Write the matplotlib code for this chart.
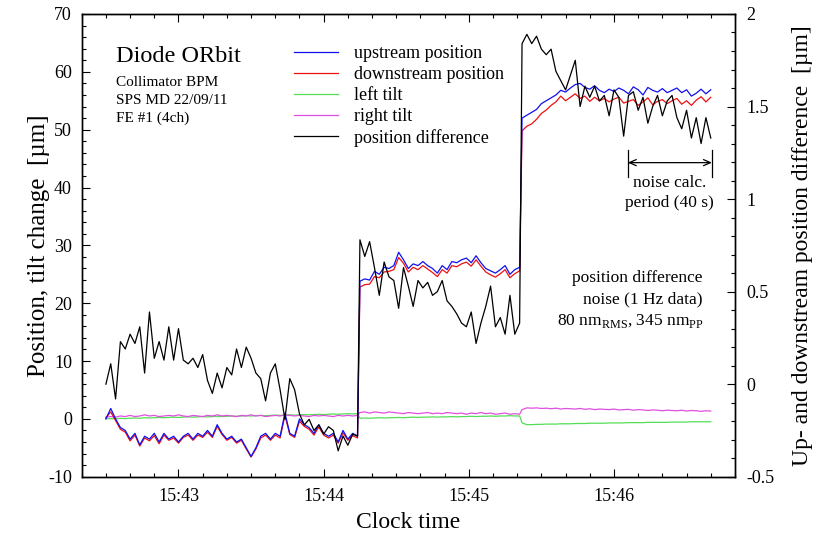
import numpy as np
import matplotlib
matplotlib.use('Agg')
import matplotlib.pyplot as plt
from matplotlib.ticker import MultipleLocator, FuncFormatter
from matplotlib.lines import Line2D

plt.rcParams['font.family'] = 'Liberation Serif'
plt.rcParams['mathtext.fontset'] = 'custom'
plt.rcParams['mathtext.rm'] = 'Liberation Serif'
plt.rcParams['axes.unicode_minus'] = False

# time in seconds after 15:42:00 (1 Hz data, every 2nd sample shown)
t = np.concatenate([np.arange(30, 135, 2), np.arange(135, 202, 2), np.arange(202, 281, 2)])

# um, left axis
upstream = [0.0, 1.8, 0.0, -1.5, -2.0, -3.5, -2.5, -4.5, -3.0, -3.5,
            -2.5, -4.0, -2.5, -3.5, -3.0, -4.0, -3.0, -2.5, -3.5, -2.5,
            -3.0, -2.0, -3.0, -1.0, -2.5, -3.5, -3.0, -4.0, -3.5, -5.0,
            -6.5, -5.0, -3.0, -2.5, -3.5, -2.5, -3.0, 1.0, -2.5, -3.0,
            0.0, -1.0, -1.5, -2.5, -1.0, -2.5, -3.0, -2.5, -4.0, -2.0,
            -3.5, -2.5, -3.0,
            23.8, 24.2, 24.0, 25.5, 25.0, 26.2, 26.0, 26.5, 28.8, 27.5,
            26.0, 26.8, 26.5, 27.2, 26.5, 26.0, 25.2, 26.5, 25.8, 27.2,
            27.0, 27.5, 27.8, 27.0, 28.2, 27.0, 26.0, 25.6, 25.2, 25.8,
            26.5, 25.0, 25.8, 26.2,
            52.0, 52.5, 53.0, 53.5, 54.5, 55.0, 55.5, 56.0, 56.8, 56.5,
            57.2, 57.8, 58.0, 57.3, 57.0, 57.6, 56.8, 56.4, 57.0, 56.6,
            57.2, 56.8, 56.2, 57.4, 56.9, 56.0, 57.3, 56.8, 56.5, 57.1,
            56.4, 56.8, 57.2, 56.4, 56.9, 55.8, 56.3, 57.0, 56.2, 56.9]

downstream = [0.2, 1.2, -0.3, -1.8, -2.3, -3.8, -2.8, -4.7, -3.3, -3.8,
              -2.9, -4.3, -2.8, -3.7, -3.3, -4.2, -3.2, -2.8, -3.7, -2.8,
              -3.2, -2.3, -3.2, -1.3, -2.7, -3.7, -3.2, -4.2, -3.7, -5.2,
              -6.6, -5.2, -3.3, -2.8, -3.7, -2.8, -3.3, 0.6, -2.7, -3.2,
              -0.4, -1.3, -1.8, -2.8, -1.4, -2.8, -3.3, -2.8, -4.2, -2.4,
              -3.7, -2.9, -3.3,
              22.8, 23.2, 23.3, 24.6, 24.4, 25.4, 25.5, 25.8, 27.9, 26.9,
              25.4, 26.2, 25.8, 26.5, 25.9, 25.3, 24.6, 25.8, 25.2, 26.5,
              26.3, 26.8, 27.1, 26.4, 27.5, 26.4, 25.4, 24.9, 24.5, 25.1,
              25.8, 24.4, 25.1, 25.6,
              49.8, 50.6, 51.0, 51.8, 52.8, 53.4, 54.2, 54.8, 55.8, 55.0,
              55.6, 56.2, 55.4, 55.8, 54.9, 55.6, 55.0, 55.4, 54.8, 55.3,
              55.6, 54.6, 54.9, 55.2, 54.2, 54.8, 55.5, 54.3, 54.9, 55.2,
              54.5, 55.0, 55.4, 54.4, 55.0, 54.2, 55.1, 55.7, 54.8, 55.6]

left_tilt = [0.0, 0.05, 0.0, 0.1, 0.05, 0.1, 0.15, 0.1, 0.2, 0.15,
             0.2, 0.25, 0.2, 0.25, 0.3, 0.25, 0.3, 0.35, 0.3, 0.35,
             0.4, 0.35, 0.4, 0.45, 0.4, 0.45, 0.5, 0.45, 0.5, 0.55,
             0.5, 0.55, 0.6, 0.55, 0.6, 0.65, 0.6, 0.65, 0.7, 0.65,
             0.7, 0.75, 0.7, 0.75, 0.8, 0.75, 0.8, 0.85, 0.8, 0.85,
             0.9, 0.85, 0.9,
             0.1, 0.15, 0.1, 0.15, 0.2, 0.15, 0.2, 0.2, 0.25, 0.2,
             0.25, 0.3, 0.25, 0.3, 0.3, 0.35, 0.3, 0.35, 0.35, 0.4,
             0.35, 0.4, 0.4, 0.45, 0.4, 0.45, 0.45, 0.5, 0.45, 0.5,
             0.5, 0.55, 0.5, 0.5,
             -0.7, -1.0, -1.0, -0.95, -0.95, -0.9, -0.9, -0.9, -0.85, -0.85,
             -0.85, -0.8, -0.8, -0.8, -0.75, -0.75, -0.75, -0.75, -0.7, -0.7,
             -0.7, -0.7, -0.65, -0.65, -0.65, -0.65, -0.6, -0.6, -0.6, -0.6,
             -0.6, -0.55, -0.55, -0.55, -0.55, -0.5, -0.5, -0.5, -0.5, -0.5]

right_tilt = [0.3, 0.4, 0.3, 0.5, 0.4, 0.6, 0.4, 0.5, 0.7, 0.5,
              0.6, 0.4, 0.5, 0.6, 0.5, 0.7, 0.5, 0.4, 0.6, 0.5,
              0.4, 0.6, 0.5, 0.7, 0.5, 0.6, 0.5, 0.4, 0.6, 0.5,
              0.7, 0.5, 0.6, 0.4, 0.5, 0.6, 0.5, 0.7, 0.6, 0.5,
              0.6, 0.5, 0.4, 0.6, 0.5, 0.6, 0.5, 0.4, 0.6, 0.5,
              0.6, 0.5, 0.6,
              1.1, 1.2, 1.0, 1.2, 1.1, 1.0, 1.2, 1.1, 1.0, 0.9,
              1.1, 1.0, 0.9, 1.0, 1.1, 0.9, 1.0, 0.9, 1.1, 1.0,
              0.9, 1.0, 0.8, 1.0, 0.9, 1.1, 0.9, 1.0, 0.8, 0.9,
              1.0, 0.8, 0.9, 0.8,
              1.6, 1.9, 1.85, 1.9, 1.8, 1.85, 1.75, 1.85, 1.7, 1.8,
              1.75, 1.7, 1.8, 1.65, 1.75, 1.6, 1.7, 1.65, 1.6, 1.7,
              1.55, 1.6, 1.65, 1.5, 1.6, 1.55, 1.45, 1.55, 1.5, 1.4,
              1.5, 1.45, 1.4, 1.5, 1.35, 1.45, 1.4, 1.3, 1.4, 1.35]

# um, right axis
pos_diff = [0.0, 0.11, -0.08, 0.23, 0.19, 0.27, 0.22, 0.31, 0.06, 0.39,
            0.14, 0.23, 0.13, 0.31, 0.13, 0.30, 0.13, 0.11, 0.14, 0.09,
            0.16, 0.02, -0.05, 0.06, -0.02, 0.09, 0.05, 0.19, 0.09, 0.20,
            0.14, 0.06, 0.03, -0.09, 0.06, 0.11, -0.03, -0.19, 0.03, -0.03,
            -0.16, -0.22, -0.19, -0.25, -0.22, -0.27, -0.23, -0.25, -0.36, -0.28,
            -0.33, -0.27, -0.28,
            0.78, 0.69, 0.77, 0.63, 0.48, 0.66, 0.58, 0.56, 0.41, 0.63,
            0.53, 0.42, 0.56, 0.52, 0.55, 0.48, 0.50, 0.56, 0.45, 0.42,
            0.38, 0.33, 0.31, 0.39, 0.22, 0.33, 0.42, 0.53, 0.31, 0.36,
            0.27, 0.48, 0.27, 0.33,
            1.84, 1.89, 1.84, 1.88, 1.81, 1.78, 1.81, 1.69, 1.64, 1.59,
            1.67, 1.75, 1.50, 1.61, 1.55, 1.61, 1.53, 1.56, 1.45, 1.59,
            1.55, 1.34, 1.56, 1.58, 1.48, 1.55, 1.41, 1.50, 1.56, 1.45,
            1.53, 1.56, 1.44, 1.38, 1.48, 1.33, 1.44, 1.30, 1.44, 1.33]

c_up, c_down, c_left, c_right = '#1010ee', '#ee1010', '#55dd55', '#e050e0'
lw = 0.9

fig = plt.figure(figsize=(8.13, 5.36), dpi=100)
ax = fig.add_axes([0.1005, 0.1106, 0.8035, 0.8633])
ax2 = ax.twinx()

ax.plot(t, left_tilt, color=c_left, lw=lw)
ax.plot(t, right_tilt, color=c_right, lw=lw)
ax.plot(t, downstream, color=c_down, lw=lw)
ax.plot(t, upstream, color=c_up, lw=lw)
ax2.plot(t, pos_diff, color='black', lw=lw)

ax.set_xlim(20, 290)
ax.set_ylim(-10, 70)
ax2.set_ylim(-0.5, 2)

ax.xaxis.set_major_locator(MultipleLocator(60))
ax.xaxis.set_minor_locator(MultipleLocator(10))
ax.xaxis.set_major_formatter(FuncFormatter(lambda v, p: f"15:{42 + int(round(v)) // 60:02d}"))
ax.yaxis.set_major_locator(MultipleLocator(10))
ax.yaxis.set_minor_locator(MultipleLocator(2))
ax2.yaxis.set_major_locator(MultipleLocator(0.5))
ax2.yaxis.set_minor_locator(MultipleLocator(0.1))
ax2.yaxis.set_major_formatter(FuncFormatter(lambda v, p: f"{v:g}"))

ax.tick_params(which='both', direction='in', top=True, right=False, labelsize=13, width=0.8)
ax.tick_params(which='major', length=6)
ax.tick_params(which='minor', length=3.2)
ax.tick_params(axis='y', pad=7)
ax.tick_params(axis='x', pad=8)
ax2.tick_params(which='both', direction='in', labelsize=13, width=0.8, pad=8)
ax2.tick_params(which='major', length=6)
ax2.tick_params(which='minor', length=3.2)
for a in (ax, ax2):
    for s in a.spines.values():
        s.set_linewidth(1.0)

ax.set_xlabel("Clock time", fontsize=17, labelpad=5)
ax.set_ylabel("Position, tilt change  [µm]", fontsize=18)
ax.yaxis.set_label_coords(-0.0485, 0.5)
ax2.set_ylabel("Up- and downstream position difference  [µm]", fontsize=17, labelpad=13)

handles = [Line2D([], [], color=c_up, lw=lw), Line2D([], [], color=c_down, lw=lw),
           Line2D([], [], color=c_left, lw=lw), Line2D([], [], color=c_right, lw=lw),
           Line2D([], [], color='black', lw=lw)]
labels = ["upstream position", "downstream position", "left tilt", "right tilt", "position difference"]
ax.legend(handles, labels, loc='upper left', bbox_to_anchor=(294 / 813, 1 - 45 / 536),
          bbox_transform=fig.transFigure, frameon=False, fontsize=13, handlelength=2.45,
          handletextpad=0.85, labelspacing=0.22, borderpad=0, borderaxespad=0)

fig.text(116 / 813, 1 - 56 / 536, "Diode ORbit", fontsize=17.5, va='center')
for yy, s in zip([83, 101, 118], ["Collimator BPM", "SPS MD 22/09/11", "FE #1 (4ch)"]):
    fig.text(116 / 813, 1 - yy / 536, s, fontsize=11, va='center')

# noise period marker
ax.annotate('', xy=(280.5, 44.3), xytext=(245.7, 44.3),
            arrowprops=dict(arrowstyle='<->,head_length=0.5,head_width=0.22', color='black',
                            lw=0.9, shrinkA=0, shrinkB=0))
ax.plot([245.7, 245.7], [41.8, 46.5], color='black', lw=0.9)
ax.plot([280.5, 280.5], [41.8, 46.5], color='black', lw=0.9)
ax.text(263.1, 40.8, "noise calc.", fontsize=12.5, ha='center', va='center')
ax.text(263.1, 37.3, "period (40 s)", fontsize=12.5, ha='center', va='center')

ax.text(276.4, 24.4, "position difference", fontsize=12.5, ha='right', va='center')
ax.text(276.4, 20.6, "noise (1 Hz data)", fontsize=12.5, ha='right', va='center')
ax.text(277.2, 17.0, r"80 nm$_\mathrm{RMS}$, 345 nm$_\mathrm{PP}$", fontsize=12.5, ha='right', va='center')

fig.savefig("out.png", dpi=100)
